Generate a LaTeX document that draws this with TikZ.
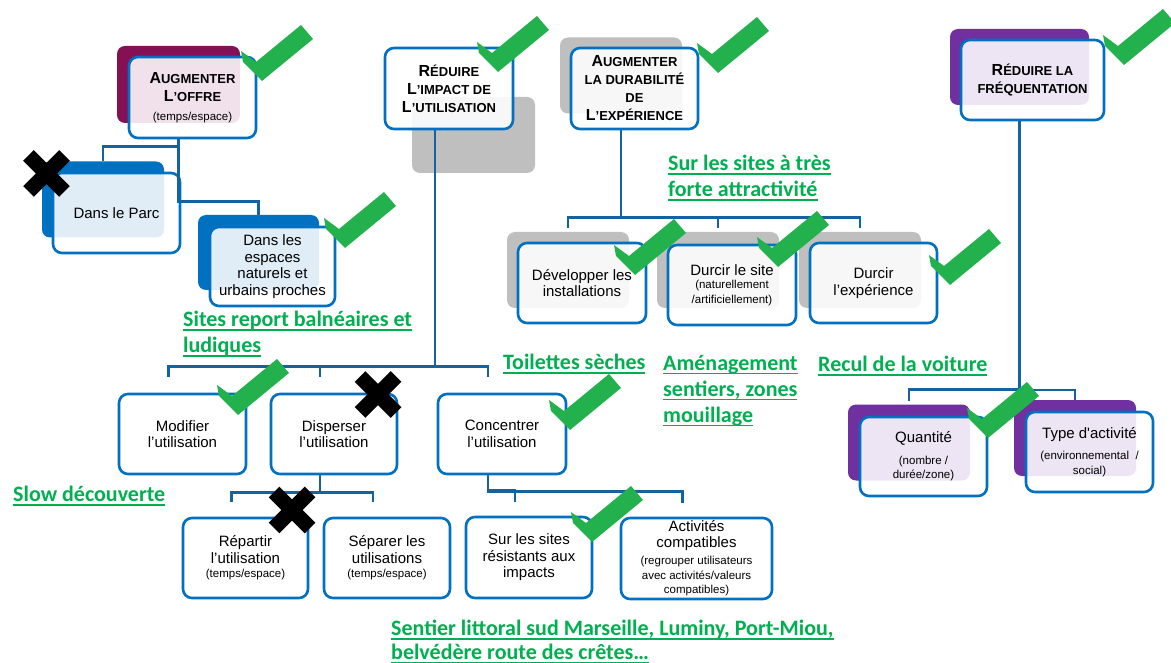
\documentclass[tikz,border=0pt]{standalone}
\usepackage{fontspec}
\setmainfont{Liberation Sans}
\newfontfamily\notefont{Carlito}
\usepackage{tikz}
\usetikzlibrary{positioning,calc}

\definecolor{boxblue}{RGB}{0,112,192}
\definecolor{linkblue}{RGB}{20,98,160}
\definecolor{offrered}{RGB}{134,16,84}
\definecolor{freqpurple}{RGB}{112,48,160}
\definecolor{parcblue}{RGB}{0,112,192}
\definecolor{shadegray}{RGB}{191,191,191}
\definecolor{notegreen}{RGB}{0,176,80}
\definecolor{tickgreen}{RGB}{34,177,76}

\newcommand{\bigsmall}[2]{{\fontsize{16}{18}\selectfont #1}#2}
\newcommand{\smalltxt}{\fontsize{11.5}{13}\selectfont}
\newcommand{\ulined}[1]{\setbox0=\hbox{#1}\rlap{\rule[-4pt]{\wd0}{1.2pt}}\box0}

\tikzset{
  frontbox/.style={draw=boxblue, line width=2.6pt, rounded corners=9pt, fill=white,
    fill opacity=0.88, text opacity=1, align=center, minimum width=127pt,
    minimum height=80pt, inner sep=2pt, font=\fontsize{15}{16.5}\selectfont},
  titlebox/.style={frontbox, font=\bfseries\fontsize{13}{18}\selectfont},
  backbox/.style={fill=#1, draw=none, rounded corners=8pt, minimum width=122pt,
    minimum height=76pt, inner sep=0pt},
  link/.style={draw=linkblue, line width=2.6pt},
  note/.style={text=notegreen, font=\notefont\bfseries\fontsize{22}{26}\selectfont,
    align=left, anchor=north west, inner sep=0pt},
  pics/checkmark/.style={code={
    \fill[tickgreen] (0,0) -- (-19,-19) -- (-21,-30) -- (-6,-19)
      -- (39,-56) -- (51,-42) -- cycle;}},
  pics/crossmark/.style={code={
    \draw[black, line width=15pt] (-18,-18) -- (18,18) (-18,18) -- (18,-18);}},
}

\begin{document}
\begin{tikzpicture}[x=1pt, y=-1pt]
    \fill[white] (0,0) rectangle (1171,663);
    \useasboundingbox (0,0) rectangle (1171,663);

    % Back shapes
    \node[backbox=offrered, minimum width=123pt, minimum height=77pt] (offreb) at (178.5,84.5) {};
    \node[backbox=shadegray, minimum width=123pt] (impactsh) at (473.5,135) {};
    \node[backbox=shadegray] (durabb) at (621,75.5) {};
    \node[backbox=freqpurple, minimum width=139pt] (freqb) at (1019.5,67) {};
    \node[backbox=parcblue] (parcb) at (103,199.5) {};
    \node[backbox=parcblue, minimum width=121pt, minimum height=75pt] (espacesb) at (258.5,252.5) {};
    \node[backbox=shadegray] (devb) at (568,270) {};
    \node[backbox=shadegray] (siteb) at (718,270) {};
    \node[backbox=shadegray] (experb) at (860,270) {};
    \node[backbox=freqpurple] (quantb) at (909,442.5) {};
    \node[backbox=freqpurple] (typeb) at (1075,438) {};

    % Top level
    \node[titlebox, minimum height=81pt] (offre) at (192.5,97.5)
      {\bigsmall{A}{UGMENTER}\\\bigsmall{L}{’OFFRE}\\[1pt]\mdseries\smalltxt (temps/espace)};
    \node[titlebox, minimum width=128pt, minimum height=81pt] (impact) at (449,88.5)
      {\bigsmall{R}{ÉDUIRE}\\\bigsmall{L}{’IMPACT DE}\\\bigsmall{L}{’UTILISATION}};
    \node[titlebox, minimum height=81pt] (durab) at (634.5,88.5)
      {\bigsmall{A}{UGMENTER}\\LA DURABILITÉ\\DE\\\bigsmall{L}{’EXPÉRIENCE}};
    \node[titlebox, minimum width=143pt] (freq) at (1032.5,80)
      {\bigsmall{R}{ÉDUIRE LA}\\FRÉQUENTATION};

    % Second level
    \node[frontbox] (parc) at (116.5,213) {Dans le Parc};
    \node[frontbox, minimum width=125pt, minimum height=79pt] (espaces) at (272.5,266.5)
      {Dans les\\espaces\\naturels et\\urbains proches};
    \node[frontbox, minimum width=128pt] (dev) at (582,283) {Développer les\\installations};
    \node[frontbox, minimum width=128pt] (site) at (732,285)
      {Durcir le site\\[-3pt]\smalltxt (naturellement\\[-2pt]\smalltxt /artificiellement)};
    \node[frontbox] (exper) at (873.5,283) {Durcir\\l’expérience};
    \node[frontbox] (modif) at (182.5,434) {Modifier\\l’utilisation};
    \node[frontbox, minimum width=126pt] (disp) at (334,434) {Disperser\\l’utilisation};
    \node[frontbox, minimum width=128pt] (conc) at (502,434) {Concentrer\\l’utilisation};
    \node[frontbox, minimum height=79pt] (quant) at (923.5,456.5)
      {Quantité\\[5pt]\smalltxt (nombre /\\[-2pt]\smalltxt durée/zone)};
    \node[frontbox] (type) at (1089.5,452)
      {Type d\textquotesingle activité\\[5pt]\smalltxt (environnemental\ \ /\\[-2pt]\smalltxt social)};

    % Third level
    \node[frontbox, minimum width=125pt] (repart) at (245.5,558)
      {Répartir\\l’utilisation\\[-2pt]\smalltxt (temps/espace)};
    \node[frontbox, minimum width=126pt] (separ) at (387,558)
      {Séparer les\\utilisations\\[-2pt]\smalltxt (temps/espace)};
    \node[frontbox, minimum width=126pt, minimum height=81pt] (surles) at (529,557.5)
      {Sur les sites\\résistants aux\\impacts};
    \node[frontbox, minimum width=151pt, minimum height=81pt] (activ) at (696.5,558.5)
      {Activités\\[-1pt]compatibles\\[1pt]\smalltxt (regrouper utilisateurs\\[-2pt]\smalltxt avec activités/valeurs\\[-2pt]\smalltxt compatibles)};

    % Connectors
    \draw[link] (parcb.north) -- ++(0,-15) -| (offreb |- offre.south);
    \draw[link] (espacesb.north) -- ++(0,-13) -| (offreb |- offre.south);
    \foreach \n in {modif,disp,conc}
      \draw[link] ([xshift=-14pt]\n.north) ++(0,-16) -- ++(0,-10) -| ([xshift=-14pt]impact.south);
    \foreach \n in {repart,separ}
      \draw[link] ([xshift=-14pt]\n.north) ++(0,-15) -- ++(0,-9) -| ([xshift=-14pt]disp.south);
    \foreach \n in {surles,activ}
      \draw[link] ([xshift=-14pt]\n.north) ++(0,-14) -- ++(0,-11) -| ([xshift=-14pt]conc.south);
    \foreach \n in {devb,siteb,experb}
      \draw[link] (\n.north) ++(0,-4) -- ++(0,-10) -| (durabb |- durab.south);
    \draw[link] (quantb.north) ++(0,-3) -- ++(0,-12) -| (freqb |- freq.south);
    \draw[link] (typeb.north) -- ++(0,-10) -| (freqb |- freq.south);

    % Green notes
    \node[note] (report) at (183,311) {\ulined{Sites report balnéaires et}\\\ulined{ludiques}};
    \node[note] (sursites) at (668,155) {\ulined{Sur les sites à très}\\\ulined{forte attractivité}};
    \node[note] (toilettes) at (503,354) {\ulined{Toilettes sèches}};
    \node[note] (amenag) at (663,355) {\ulined{Aménagement}\\\ulined{sentiers, zones}\\\ulined{mouillage}};
    \node[note] (recul) at (818,356) {\ulined{Recul de la voiture}};
    \node[note] (slow) at (13,486) {\ulined{Slow découverte}};
    \node[note] (sentier) at (391,620)
      {\ulined{Sentier littoral sud Marseille, Luminy, Port-Miou,}\\[-2pt]\ulined{belvédère route des crêtes…}};

    % Ticks and crosses
    \foreach \x/\y in {262/81, 498/72, 718/73, 1124/65, 345/248, 635/275,
                       778/267, 950/285, 238/415, 570/430, 592/542, 988/438}
      \pic at (\x,\y) {checkmark};
    \foreach \x/\y in {46.5/173.5, 378/394.5, 292/510}
      \pic at (\x,\y) {crossmark};
\end{tikzpicture}
\end{document}
